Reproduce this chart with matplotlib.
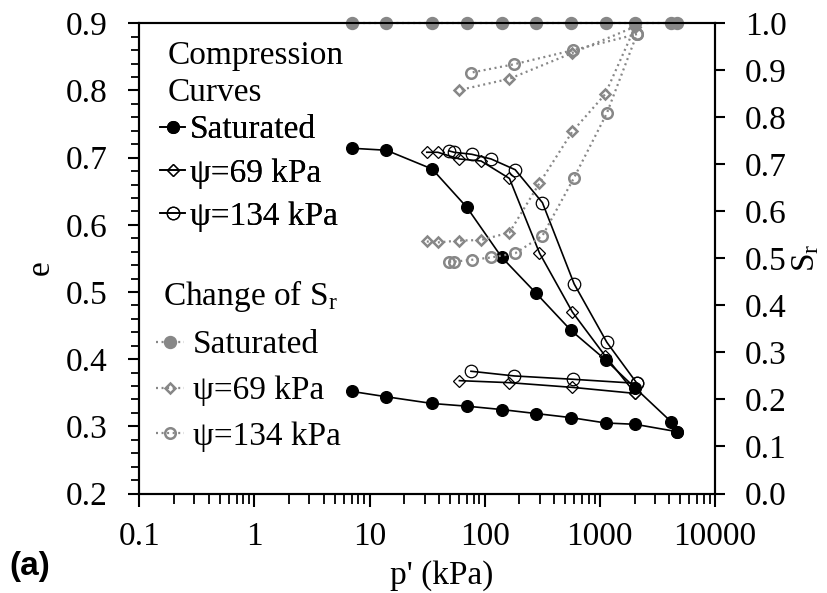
import matplotlib
matplotlib.use("Agg")
import matplotlib.pyplot as plt
from matplotlib.lines import Line2D
from matplotlib.ticker import MultipleLocator, FormatStrFormatter, LogLocator, NullFormatter, FixedFormatter, FixedLocator

plt.rcParams['font.family'] = ['Liberation Serif', 'DejaVu Serif']
plt.rcParams['mathtext.fontset'] = 'custom'
plt.rcParams['mathtext.rm'] = 'Liberation Serif'
plt.rcParams['mathtext.it'] = 'Liberation Serif:italic'

# ---- data ----
sat_load_p = [7, 14, 35, 70, 140, 280, 560, 1120, 2030, 4150, 4700]
sat_load_e = [0.714, 0.711, 0.683, 0.626, 0.552, 0.498, 0.443, 0.399, 0.357, 0.307, 0.292]
sat_unload_p = [4700, 2030, 1120, 560, 280, 140, 70, 35, 14, 7]
sat_unload_e = [0.292, 0.303, 0.305, 0.313, 0.319, 0.325, 0.330, 0.334, 0.344, 0.352]
sat_sr = [1.0, 1.0, 1.0, 1.0, 1.0, 1.0, 1.0, 1.0, 1.0, 1.0, 1.0]

psi69_load_p = [31.4, 39.1, 60.3, 93, 164, 299, 578, 1110, 2030]
psi69_load_e = [0.708, 0.708, 0.698, 0.695, 0.669, 0.558, 0.470, 0.405, 0.349]
psi69_unload_p = [2030, 578, 164, 60.3]
psi69_unload_e = [0.349, 0.358, 0.365, 0.368]
psi69_load_sr = [0.536, 0.534, 0.538, 0.539, 0.555, 0.660, 0.770, 0.849, 0.993]
psi69_unload_sr = [0.993, 0.937, 0.882, 0.858]

psi134_load_p = [49.1, 54.2, 77.2, 113.7, 184, 317, 598, 1151, 2100]
psi134_load_e = [0.710, 0.708, 0.705, 0.698, 0.682, 0.633, 0.512, 0.425, 0.364]
psi134_unload_p = [2100, 590, 181, 76]
psi134_unload_e = [0.364, 0.370, 0.375, 0.382]
psi134_load_sr = [0.493, 0.493, 0.497, 0.502, 0.511, 0.548, 0.672, 0.809, 0.977]
psi134_unload_sr = [0.977, 0.943, 0.913, 0.895]

x_ticks = [0.1, 1, 10, 100, 1000, 10000]
x_ticklabels = ['0.1', '1', '10', '100', '1000', '10000']
legend_labels = ['Saturated', 'ψ=69 kPa', 'ψ=134 kPa']

# ---- style ----
FS = 24
GRAY = '#878787'
BLK = 'black'
dotted = (0, (0.9, 1.6))

fig = plt.figure(figsize=(8.27, 5.93), dpi=100)
ax = fig.add_axes([139.3 / 827, 1 - 493.5 / 593, (715 - 139.3) / 827, (493.5 - 23.3) / 593])
ax2 = ax.twinx()

# compression curves (e)
kw_sat = dict(color=BLK, lw=1.2, marker='o', ms=8.4, mfc=BLK, mec=BLK)
ax.plot(sat_load_p, sat_load_e, zorder=3, **kw_sat)
ax.plot(sat_unload_p, sat_unload_e, zorder=3, **kw_sat)
kw_69 = dict(color=BLK, lw=1.2, marker='D', ms=6.2, mfc='none', mec=BLK, mew=0.9)
ax.plot(psi69_load_p, psi69_load_e, zorder=3, **kw_69)
ax.plot(psi69_unload_p, psi69_unload_e, zorder=3, **kw_69)
kw_134 = dict(color=BLK, lw=1.2, marker='o', ms=9, mfc='none', mec=BLK, mew=0.9)
ax.plot(psi134_load_p, psi134_load_e, zorder=3, **kw_134)
ax.plot(psi134_unload_p, psi134_unload_e, zorder=3, **kw_134)

# degree of saturation (Sr)
kw_ssat = dict(color=GRAY, lw=1.6, ls=dotted, marker='o', ms=8.6, mfc=GRAY, mec=GRAY)
ax2.plot(sat_load_p, sat_sr, clip_on=False, **kw_ssat)
kw_s69 = dict(color=GRAY, lw=1.6, ls=dotted, marker='D', ms=5.2, mfc='none', mec=GRAY, mew=1.8)
ax2.plot(psi69_load_p, psi69_load_sr, **kw_s69)
ax2.plot(psi69_unload_p, psi69_unload_sr, **kw_s69)
kw_s134 = dict(color=GRAY, lw=1.6, ls=dotted, marker='o', ms=7.6, mfc='none', mec=GRAY, mew=1.8)
ax2.plot(psi134_load_p, psi134_load_sr, **kw_s134)
ax2.plot(psi134_unload_p, psi134_unload_sr, **kw_s134)

# axes
ax.set_xscale('log')
ax.set_xlim(0.1, 10000)
ax.set_ylim(0.2, 0.9)
ax2.set_ylim(0.0, 1.0)
ax.xaxis.set_major_locator(FixedLocator(x_ticks))
ax.xaxis.set_major_formatter(FixedFormatter(x_ticklabels))
ax.xaxis.set_minor_locator(LogLocator(base=10, subs=range(2, 10), numticks=20))
ax.xaxis.set_minor_formatter(NullFormatter())
ax.yaxis.set_major_locator(MultipleLocator(0.1))
ax.yaxis.set_minor_locator(MultipleLocator(0.02))
ax.yaxis.set_major_formatter(FormatStrFormatter('%.1f'))
ax2.yaxis.set_major_locator(MultipleLocator(0.1))
ax2.yaxis.set_major_formatter(FormatStrFormatter('%.1f'))

for a in (ax, ax2):
    for s in a.spines.values():
        s.set_linewidth(1.5)
ax.tick_params(axis='x', which='major', direction='out', length=9, width=1.5, labelsize=FS, pad=11)
ax.tick_params(axis='x', which='minor', direction='out', length=7, width=1.3)
ax.tick_params(axis='y', which='major', direction='out', length=8, width=1.5, labelsize=FS, pad=15)
ax.tick_params(axis='y', which='minor', direction='out', length=5.5, width=1.3)
ax2.tick_params(axis='y', which='major', direction='out', length=7.5, width=1.5, labelsize=FS, pad=14)

# axis labels
fig.text(442 / 827, 1 - 576 / 593, "p' (kPa)", ha='center', va='center', fontsize=FS)
fig.text(41 / 827, 1 - 268 / 593, 'e', ha='center', va='center', rotation=90, fontsize=FS)
fig.text(806 / 827, 1 - 258 / 593, r'S$_\mathregular{r}$', ha='center', va='center', rotation=90, fontsize=FS)
fig.text(30 / 827, 1 - 566 / 593, '(a)', ha='center', va='center', fontsize=FS,
         fontweight='bold', family=['Liberation Sans', 'DejaVu Sans'])

# legend helpers (pixel -> axes fraction)
def ax_y(py):
    return (493.5 - py) / 470.2

def ax_x(px):
    return (px - 139.3) / 575.7

# legend group 1: compression curves
ax.text(ax_x(168), ax_y(64), 'Compression', transform=ax.transAxes, fontsize=FS, va='baseline', ha='left')
ax.text(ax_x(168), ax_y(101), 'Curves', transform=ax.transAxes, fontsize=FS, va='baseline', ha='left')
h1 = [Line2D([], [], **kw_sat), Line2D([], [], **kw_69), Line2D([], [], **kw_134)]
leg1 = ax.legend(h1, legend_labels, loc='upper left', bbox_to_anchor=(ax_x(160), ax_y(115)),
                 frameon=False, fontsize=FS,
                 handlelength=0.75, handletextpad=0.15, labelspacing=0.38, borderpad=0, borderaxespad=0)
ax.add_artist(leg1)

# legend group 2: change of Sr
ax2.text(ax_x(163), ax_y(305), r'Change of S$_\mathregular{r}$', transform=ax2.transAxes, fontsize=FS,
         va='baseline', ha='left')
h2 = [Line2D([], [], **kw_ssat), Line2D([], [], **kw_s69), Line2D([], [], **kw_s134)]
leg2 = ax2.legend(h2, legend_labels, loc='upper left', bbox_to_anchor=(ax_x(156), ax_y(330)),
                  frameon=False, fontsize=FS,
                  handlelength=0.85, handletextpad=0.25, labelspacing=0.46, borderpad=0, borderaxespad=0)

fig.savefig('out.png', dpi=100)
